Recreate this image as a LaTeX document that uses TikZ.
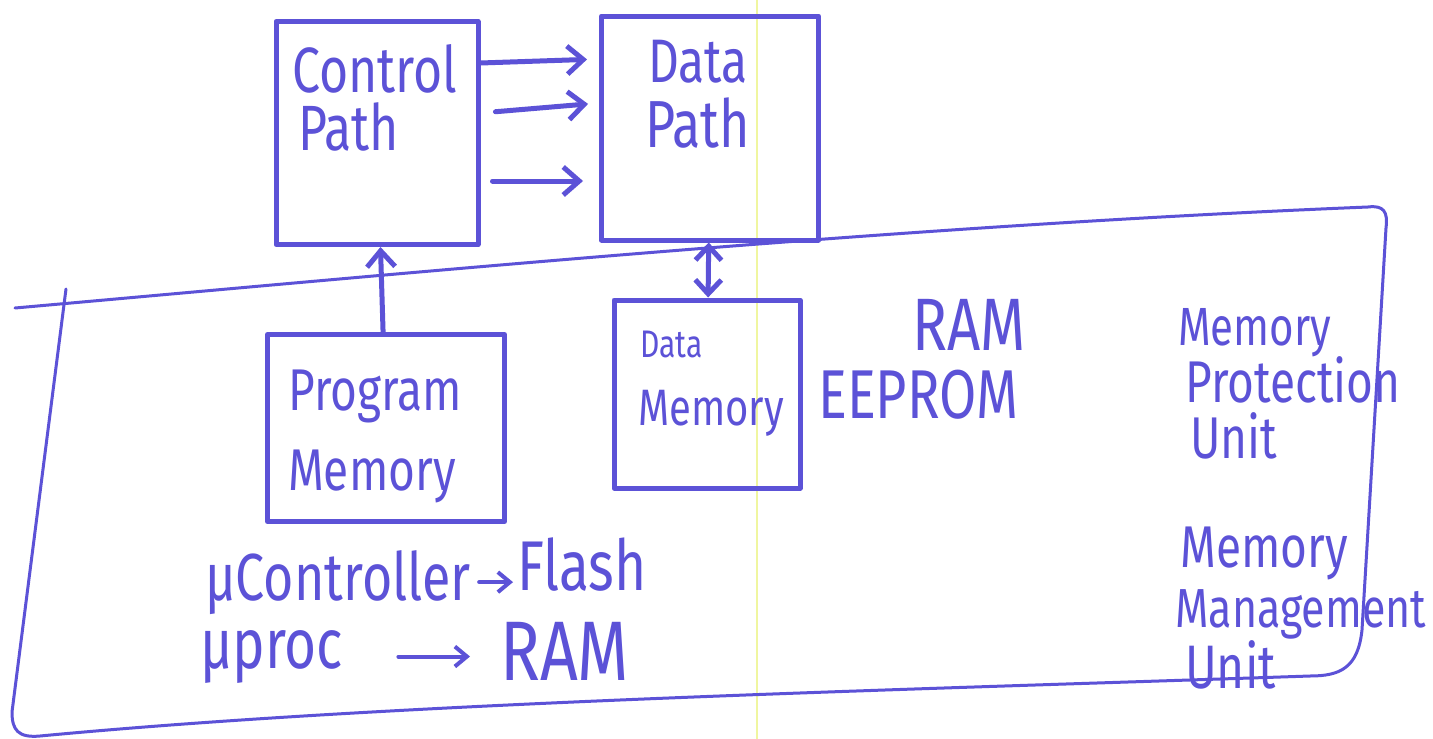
\documentclass[tikz,border=0pt]{standalone}
\usepackage{fontspec}
\usepackage{graphicx}
\setmainfont{Fira Sans}
\usetikzlibrary{arrows.meta,calc}
\definecolor{pen}{RGB}{92,82,215}
\definecolor{scanline}{RGB}{240,246,160}
\newcommand{\fs}[1]{\fontsize{#1}{#1}\selectfont}
\newcommand{\hw}[1]{\scalebox{1}[1.28]{#1}}
\begin{document}
\begin{tikzpicture}[x=1pt,y=-1pt,line cap=round,line join=round,
  box/.style={draw=pen,line width=5pt,rectangle,inner sep=0pt},
  lbl/.style={text=pen,inner sep=0pt,anchor=base west},
  arr/.style={draw=pen,line width=5pt,-{Straight Barb[length=16pt,width=28pt]}},
  darr/.style={draw=pen,line width=5pt,{Straight Barb[length=14pt,width=26pt]}-{Straight Barb[length=14pt,width=26pt]}},
  arrsm/.style={draw=pen,line width=4pt,-{Straight Barb[length=12pt,width=20pt]}},
  encl/.style={draw=pen,line width=3pt}]
\useasboundingbox (0,0) rectangle (1433,739);
\fill[white] (0,0) rectangle (1433,739);
\draw[scanline,line width=1.2pt] (757,0) -- (757,739);

% memory region outline
\draw[encl] (15,308) .. controls (420,272) and (900,226) .. (1368,207)
  .. controls (1384,205) and (1388,212) .. (1386,228) -- (1362,630)
  .. controls (1358,668) and (1340,676) .. (1310,676)
  .. controls (900,690) and (400,702) .. (40,736)
  .. controls (18,738) and (12,730) .. (12,712) -- (66,289);

% boxes
\node[box,minimum width=202pt,minimum height=223pt] (cp) at (377,133) {};
\node[box,minimum width=217pt,minimum height=224pt] (dp) at (710,128) {};
\node[box,minimum width=237pt,minimum height=187pt] (pm) at (386,428) {};
\node[box,minimum width=186pt,minimum height=188pt] (dm) at (707,394) {};

% box labels
\node[lbl,font=\fs{50}] (cp1) at (292,92) {\hw{Control}};
\node[lbl,font=\fs{50}] (cp2) at (298,150) {\hw{Path}};
\node[lbl,font=\fs{48}] (dp1) at (648,82) {\hw{Data}};
\node[lbl,font=\fs{52}] (dp2) at (645,147) {\hw{Path}};
\node[lbl,font=\fs{46}] (pm1) at (288,410) {\hw{Program}};
\node[lbl,font=\fs{46}] (pm2) at (288,490) {\hw{Memory}};
\node[lbl,font=\fs{30}] (dm1) at (640,357) {\hw{Data}};
\node[lbl,font=\fs{40}] (dm2) at (638,425) {\hw{Memory}};

% memory types
\node[lbl,font=\fs{58}] (ram) at (912,350) {\hw{RAM}};
\node[lbl,font=\fs{54}] (eeprom) at (818,418) {\hw{EEPROM}};
\node[lbl,font=\fs{42}] (mpu1) at (1178,345) {\hw{Memory}};
\node[lbl,font=\fs{46}] (mpu2) at (1185,402) {\hw{Protection}};
\node[lbl,font=\fs{46}] (mpu3) at (1190,458) {\hw{Unit}};
\node[lbl,font=\fs{46}] (mmu1) at (1180,567) {\hw{Memory}};
\node[lbl,font=\fs{43}] (mmu2) at (1175,627) {\hw{Management}};
\node[lbl,font=\fs{48}] (mmu3) at (1185,688) {\hw{Unit}};

\node[lbl,font=\fs{52}] (uc) at (205,600) {\hw{μController}};
\node[lbl,font=\fs{55}] (flash) at (517,590) {\hw{Flash}};
\node[lbl,font=\fs{55}] (up) at (200,668) {\hw{μproc}};
\node[lbl,font=\fs{66}] (ram2) at (500,680) {\hw{RAM}};

% connectors
\draw[arr,shorten >=12pt] ([yshift=70pt]cp.east) -- ([yshift=74pt]cp.east -| dp.west);
\draw[arr,shorten <=15pt,shorten >=11pt] ([yshift=20pt]cp.east) -- ([yshift=30pt]cp.east -| dp.west);
\draw[arr,shorten <=12pt,shorten >=16pt] ([yshift=-48pt]cp.east) -- ([yshift=-48pt]cp.east -| dp.west);
\draw[arr] (pm) -- (cp);
\draw[darr] (dp) -- (dm);
\draw[arrsm,shorten <=8pt,shorten >=4pt] (uc.east) -- (uc.east -| flash.west);
\draw[arrsm,shorten <=55pt,shorten >=30pt] (up.east) -- (up.east -| ram2.west);
\end{tikzpicture}
\end{document}
